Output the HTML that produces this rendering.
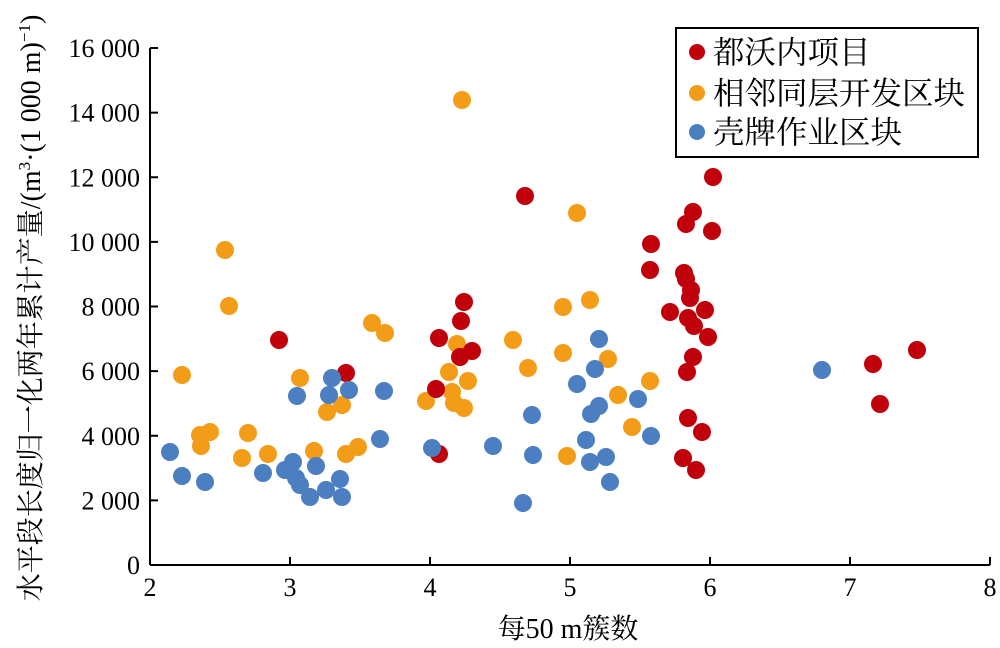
<!DOCTYPE html>
<html><head><meta charset="utf-8"><style>
html,body{margin:0;padding:0;background:#fff;width:1000px;height:648px;overflow:hidden}
text{font-family:"Liberation Serif","Noto Serif CJK SC",serif;fill:#000}
</style></head><body>
<svg id="s" width="1000" height="648" xmlns="http://www.w3.org/2000/svg">
<g id="pts"></g>
<line x1="150" y1="565" x2="990" y2="565" stroke="#000" stroke-width="2"/>
<line x1="150" y1="48" x2="150" y2="565" stroke="#000" stroke-width="2"/>
<g id="ax" font-size="26"></g>
<text x="568" y="638" font-size="28" text-anchor="middle">每50 m簇数</text>
<text transform="translate(40,308) rotate(-90)" font-size="28" text-anchor="middle">水平段长度归一化两年累计产量/(m<tspan font-size="17" dy="-10">3</tspan><tspan dy="10">·(1 000 m)</tspan><tspan font-size="17" dy="-10">−1</tspan><tspan dy="10">)</tspan></text>
<rect x="676" y="28" width="302" height="129" fill="#fff" stroke="#000" stroke-width="2"/>
<circle cx="697" cy="52" r="8" fill="#c0000b"/>
<circle cx="697" cy="93" r="8" fill="#f39c17"/>
<circle cx="697" cy="132" r="8" fill="#4b7fc1"/>
<text x="713" y="63" font-size="31.5">都沃内项目</text>
<text x="713" y="104" font-size="31.5">相邻同层开发区块</text>
<text x="713" y="143" font-size="31.5">壳牌作业区块</text>
</svg>
<script>
var NS="http://www.w3.org/2000/svg";
function el(t,a,p){var e=document.createElementNS(NS,t);for(var k in a)e.setAttribute(k,a[k]);p.appendChild(e);return e;}
var ax=document.getElementById('ax');
for(var i=2;i<=8;i++){var x=150+(i-2)*140;el('line',{x1:x,y1:565,x2:x,y2:557,stroke:'#000','stroke-width':2},ax);var t=el('text',{x:x,y:596,'text-anchor':'middle'},ax);t.textContent=i;}
var labs=['0','2 000','4 000','6 000','8 000','10 000','12 000','14 000','16 000'];
for(var j=0;j<=8;j++){var y=565-j*64.625;el('line',{x1:150,y1:y,x2:158,y2:y,stroke:'#000','stroke-width':2},ax);var t=el('text',{x:140,y:y+9,'text-anchor':'end'},ax);t.textContent=labs[j];}
var R=[[279,340],[346,373],[439,338],[436,389],[439,454],[464,302],[461,321],[460,357],[472,351],[525,196],[651,244],[650,270],[686,224],[693,212],[713,177],[712,231],[686,279],[684,273],[691,290],[690,298],[670,312],[688,318],[705,310],[694,326],[708,337],[693,357],[687,372],[688,418],[702,432],[683,458],[696,470],[873,364],[880,404],[917,350]];
var O=[[182,375],[225,250],[229,306],[200,435],[210,432],[201,446],[242,458],[248,433],[268,454],[300,378],[327,412],[314,451],[342,405],[346,454],[358,447],[372,323],[385,333],[426,401],[449,372],[457,344],[452,392],[454,403],[464,408],[468,381],[462,100],[513,340],[528,368],[563,307],[577,213],[563,353],[567,456],[590,300],[608,359],[618,395],[632,427],[650,381]];
var B=[[170,452],[182,476],[205,482],[263,473],[285,470],[296,478],[293,462],[297,396],[300,485],[310,497],[316,466],[326,490],[332,378],[329,395],[342,497],[340,479],[349,390],[380,439],[384,391],[432,448],[493,446],[523,503],[532,415],[533,455],[577,384],[586,440],[590,462],[595,369],[591,414],[599,406],[599,339],[606,457],[610,482],[638,399],[651,436],[822,370]];
var g=document.getElementById('pts');
[[O,'#f39c17'],[R,'#c0000b'],[B,'#4b7fc1']].forEach(function(s){s[0].forEach(function(p){el('circle',{cx:p[0],cy:p[1],r:9,fill:s[1]},g);});});
</script>
</body></html>
